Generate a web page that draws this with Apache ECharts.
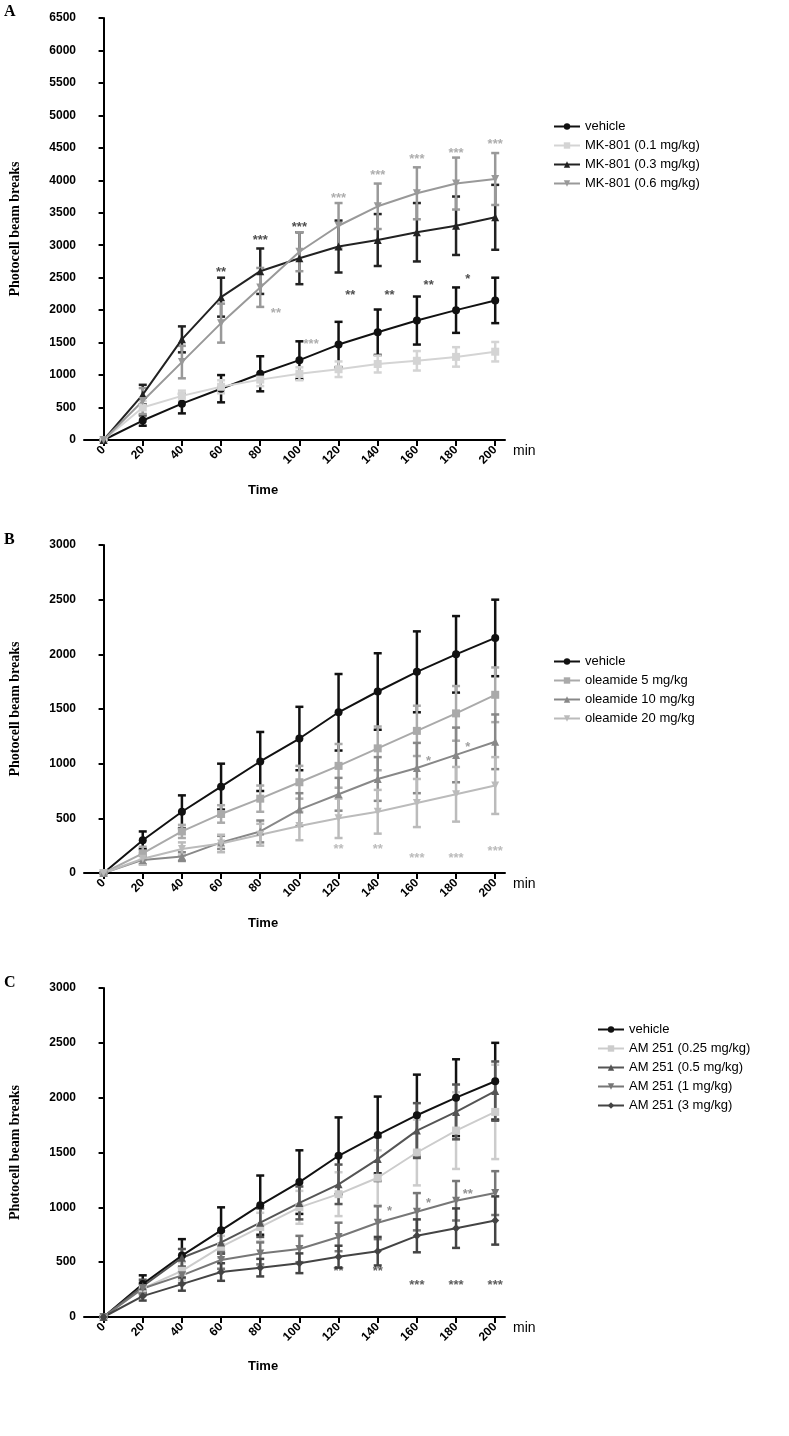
<!DOCTYPE html><html><head><meta charset="utf-8"><script src="https://cdn.jsdelivr.net/npm/echarts@6/dist/echarts.min.js"></script>
<style>html,body{margin:0;background:#fff}#c{width:789px;height:1436px}</style></head><body><div id="c"></div><script>
const times=[0,20,40,60,80,100,120,140,160,180,200];
const vehicle=[0,300,560,790,1020,1230,1470,1660,1840,2000,2150];
const vehicleErr=[0,80,150,210,270,290,350,350,370,350,350];
const mk01=[0,500,680,820,930,1020,1090,1170,1220,1280,1360];
const mk01Err=[0,100,80,100,100,100,120,130,150,150,150];
const mk03=[0,700,1550,2200,2600,2800,2980,3080,3200,3300,3430];
const mk03Err=[0,150,200,300,350,400,400,400,450,450,500];
const mk06=[0,600,1200,1800,2350,2900,3300,3600,3800,3950,4020];
const mk06Err=[0,200,250,300,300,300,350,350,400,400,400];
const ole5=[0,180,380,540,680,830,980,1140,1300,1460,1630];
const ole5Err=[0,60,60,80,120,150,200,200,230,250,250];
const ole10=[0,120,150,280,380,580,720,860,960,1080,1200];
const ole10Err=[0,40,40,60,100,150,150,200,230,250,250];
const ole20=[0,130,220,270,350,430,500,560,640,720,800];
const ole20Err=[0,50,60,80,100,130,180,200,220,250,260];
const am025=[0,260,420,640,820,1000,1120,1270,1500,1700,1870];
const am025Err=[0,60,80,100,130,150,200,250,300,350,430];
const am05=[0,280,540,680,860,1040,1210,1440,1700,1870,2060];
const am05Err=[0,60,80,100,130,150,180,200,250,250,270];
const am1=[0,260,380,520,580,620,730,860,960,1060,1130];
const am1Err=[0,50,70,80,100,120,130,150,170,180,200];
const am3=[0,190,300,410,450,490,550,600,740,810,880];
const am3Err=[0,40,60,80,80,90,100,130,150,180,220];
const starsA=[[60,2580,'**','#222'],[80,3080,'***','#222'],[100,3280,'***','#222'],[120,3720,'***','#999'],[140,4070,'***','#999'],[160,4320,'***','#999'],[180,4420,'***','#999'],[200,4550,'***','#999'],[126,2230,'**','#222'],[146,2230,'**','#222'],[166,2380,'**','#222'],[186,2480,'*','#222'],[206,2730,'*','#222'],[88,1950,'**','#999'],[106,1470,'***','#999']];
const starsB=[[120,220,'**','#aaa'],[140,220,'**','#aaa'],[160,130,'***','#aaa'],[180,130,'***','#aaa'],[200,200,'***','#aaa'],[166,1020,'*','#888'],[186,1150,'*','#888'],[206,1590,'*','#aaa']];
const starsC=[[120,420,'**','#333'],[140,420,'**','#333'],[160,290,'***','#333'],[180,290,'***','#333'],[200,290,'***','#333'],[146,960,'*','#777'],[166,1040,'*','#777'],[186,1120,'**','#777'],[207,1120,'**','#777']];

const tri='triangle', itri='path://M0,0 L10,0 L5,9 Z';
const panels=[
 {top:18,bottom:996,max:6500,series:[['vehicle',vehicle,vehicleErr,'#111','circle'],['MK-801 (0.1 mg/kg)',mk01,mk01Err,'#d4d4d4','rect'],['MK-801 (0.3 mg/kg)',mk03,mk03Err,'#222',tri],['MK-801 (0.6 mg/kg)',mk06,mk06Err,'#999',itri]],stars:starsA,legend:{left:548,top:115}},
 {top:545,bottom:563,max:3000,series:[['vehicle',vehicle,vehicleErr,'#111','circle'],['oleamide 5 mg/kg',ole5,ole5Err,'#aaa','rect'],['oleamide 10 mg/kg',ole10,ole10Err,'#888',tri],['oleamide 20 mg/kg',ole20,ole20Err,'#bbb',itri]],stars:starsB,legend:{left:548,top:650}},
 {top:988,bottom:119,max:3000,series:[['vehicle',vehicle,vehicleErr,'#111','circle'],['AM 251 (0.25 mg/kg)',am025,am025Err,'#ccc','rect'],['AM 251 (0.5 mg/kg)',am05,am05Err,'#555',tri],['AM 251 (1 mg/kg)',am1,am1Err,'#777',itri],['AM 251 (3 mg/kg)',am3,am3Err,'#444','diamond']],stars:starsC,legend:{left:592,top:1018}}
];
const grid=[],xAxis=[],yAxis=[],series=[],legend=[],graphic=[];
panels.forEach((p,i)=>{
 grid.push({left:80,right:284,top:p.top,bottom:p.bottom});
 xAxis.push({type:'value',gridIndex:i,min:-10,max:205,name:'min',nameGap:8,nameTextStyle:{fontSize:14,color:'#000',verticalAlign:'top',padding:[4,0,0,0]},
  axisLine:{lineStyle:{color:'#000',width:2}},splitLine:{show:false},
  axisTick:{customValues:times,length:6,lineStyle:{width:2}},axisLabel:{customValues:times,rotate:45,color:'#000',fontWeight:'bold',fontSize:12,fontFamily:'Liberation Sans'}});
 yAxis.push({type:'value',gridIndex:i,min:0,max:p.max,interval:500,name:'Photocell beam breaks',nameLocation:'middle',nameGap:62,
  nameTextStyle:{fontFamily:'Liberation Serif',fontWeight:'bold',fontSize:14,color:'#000'},
  axisLine:{show:true,lineStyle:{color:'#000',width:2}},axisTick:{show:true,length:5,lineStyle:{width:2}},splitLine:{show:false},
  axisLabel:{color:'#000',fontSize:12,fontWeight:'bold',fontFamily:'Liberation Sans',formatter:v=>String(v)}});
 const names=[];
 p.series.forEach(([n,vals,err,col,sym])=>{
  names.push(n);
  series.push({type:'custom',xAxisIndex:i,yAxisIndex:i,silent:true,data:times.map((t,k)=>[t,vals[k]-err[k],vals[k]+err[k]]),
   renderItem:(params,api)=>{const lo=api.coord([api.value(0),api.value(1)]),hi=api.coord([api.value(0),api.value(2)]);
    const st={stroke:col,lineWidth:2.5};return {type:'group',children:[
     {type:'line',shape:{x1:lo[0],y1:lo[1],x2:hi[0],y2:hi[1]},style:st},
     {type:'line',shape:{x1:lo[0]-4,y1:lo[1],x2:lo[0]+4,y2:lo[1]},style:st},
     {type:'line',shape:{x1:hi[0]-4,y1:hi[1],x2:hi[0]+4,y2:hi[1]},style:st}]};}});
  series.push({type:'line',name:n,xAxisIndex:i,yAxisIndex:i,data:times.map((t,k)=>[t,vals[k]]),symbol:sym,symbolSize:8,
   lineStyle:{color:col,width:2},itemStyle:{color:col},z:5});
 });
 series.push({type:'scatter',xAxisIndex:i,yAxisIndex:i,symbolSize:0,silent:true,
  data:p.stars.map(s=>({value:[s[0],s[1]],label:{show:true,formatter:s[2],color:s[3],fontSize:13,fontWeight:'bold',position:'inside'}}))});
 legend.push({data:names,left:p.legend.left,top:p.legend.top,orient:'vertical',itemGap:6,itemWidth:26,itemHeight:8,textStyle:{fontSize:13,color:'#000',fontFamily:'Liberation Sans'}});
 graphic.push({type:'text',left:4,top:[4,532,975][i],style:{text:['A','B','C'][i],font:'bold 16px Liberation Serif',fill:'#000'}});
 graphic.push({type:'text',left:248,top:[484,917,1360][i],style:{text:'Time',font:'bold 13px Liberation Sans',fill:'#000'}});
});
const chart=echarts.init(document.getElementById('c'));
chart.setOption({animation:false,grid,xAxis,yAxis,series,legend,graphic});
</script></body></html>
